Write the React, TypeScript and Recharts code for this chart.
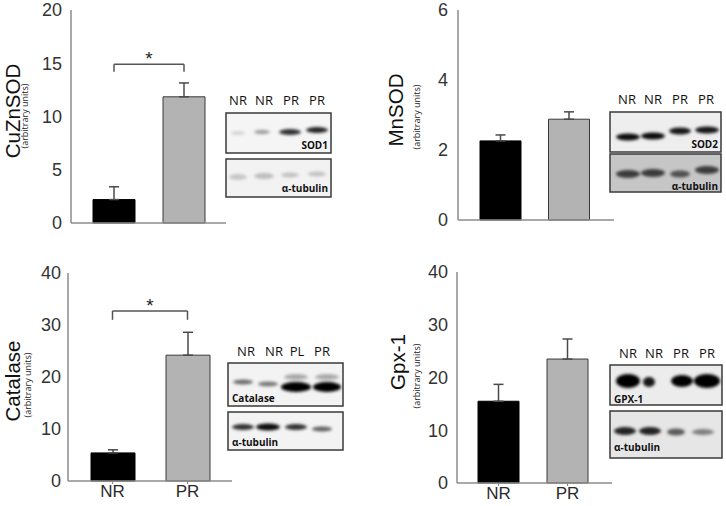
import React from 'react';
import { BarChart, Bar, XAxis, YAxis, ErrorBar, ReferenceLine, Cell } from 'recharts';

// ---- data ----
const groups = ['NR', 'PR'];
const cuznsodMean = [2.2, 11.85];
const cuznsodSem = [1.2, 1.3];
const mnsodMean = [2.26, 2.88];
const mnsodSem = [0.17, 0.21];
const catalaseMean = [5.4, 24.2];
const catalaseSem = [0.6, 4.4];
const gpx1Mean = [15.5, 23.5];
const gpx1Sem = [3.2, 3.8];

const cuznsodTicks = [0, 5, 10, 15, 20];
const mnsodTicks = [0, 2, 4, 6];
const catalaseTicks = [0, 10, 20, 30, 40];
const gpx1Ticks = [0, 10, 20, 30, 40];

// significance brackets: [bar level, leg bottom]
const cuznsodBracket = [14.9, 14.2];
const catalaseBracket = [32.7, 31.0];

const lanesA = ['NR', 'NR', 'PR', 'PR'];
const lanesCat = ['NR', 'NR', 'PL', 'PR'];

const barColors = ['#000000', '#b3b3b3'];
const barStrokes = ['#000000', '#3a3a3a'];

const toRows = (mean: number[], sem: number[]) =>
  groups.map((g, i) => ({ group: g, value: mean[i], err: [0, sem[i]] }));

const AXIS = '#8c8c8c';
const TICKFONT = "'Liberation Sans', Arial, sans-serif";
const TITLEFONT = "'Open Sans', 'Noto Sans', sans-serif";

type PanelProps = {
  left: number; top: number; width: number; height: number;
  margin: { top: number; right: number; bottom: number; left: number };
  yWidth: number; xHeight: number;
  data: any[]; ticks: number[];
  padding: { left: number; right: number };
  barSize: number; tickGap: number; showX: boolean;
  bracket?: number[];
};

function Panel(p: PanelProps) {
  const max = p.ticks[p.ticks.length - 1];
  return (
    <div style={{ position: 'absolute', left: p.left, top: p.top }}>
      <BarChart width={p.width} height={p.height} data={p.data} margin={p.margin}>
        <XAxis
          dataKey="group"
          height={p.xHeight}
          padding={p.padding}
          axisLine={{ stroke: AXIS, strokeWidth: 1.5 }}
          tickLine={{ stroke: AXIS, strokeWidth: 1.2 }}
          tickSize={3}
          tickMargin={1}
          tick={p.showX ? { fill: '#2a2a2a', fontSize: 17, fontFamily: TICKFONT } : false}
        />
        <YAxis
          width={p.yWidth}
          domain={[0, max]}
          ticks={p.ticks}
          interval={0}
          axisLine={{ stroke: AXIS, strokeWidth: 1.5 }}
          tickLine={false}
          tickSize={0}
          tickMargin={p.tickGap}
          tick={{ fill: '#333333', fontSize: 18, fontFamily: TICKFONT }}
        />
        <Bar dataKey="value" barSize={p.barSize} isAnimationActive={false} strokeWidth={1}>
          {p.data.map((d, i) => (
            <Cell key={d.group} fill={barColors[i]} stroke={barStrokes[i]} />
          ))}
          <ErrorBar dataKey="err" width={5} stroke="#4a4a4a" strokeWidth={1.5} direction="y" isAnimationActive={false} />
        </Bar>
        {p.bracket && (
          <ReferenceLine
            segment={[{ x: 'NR', y: p.bracket[0] }, { x: 'PR', y: p.bracket[0] }]}
            stroke="#555"
            strokeWidth={1.5}
            label={{ value: '*', position: 'top', offset: -1, fill: '#222', fontSize: 19, fontFamily: TICKFONT }}
          />
        )}
        {p.bracket && (
          <ReferenceLine segment={[{ x: 'NR', y: p.bracket[0] }, { x: 'NR', y: p.bracket[1] }]} stroke="#555" strokeWidth={1.5} />
        )}
        {p.bracket && (
          <ReferenceLine segment={[{ x: 'PR', y: p.bracket[0] }, { x: 'PR', y: p.bracket[1] }]} stroke="#555" strokeWidth={1.5} />
        )}
      </BarChart>
    </div>
  );
}

type Band = [number, number, number, number, number]; // cx, cy, rx, ry, opacity

function BlotBox({ x, y, w, h, bg, bands, label, labelX, labelY, anchor }:
  { x: number; y: number; w: number; h: number; bg: string; bands: Band[]; label: string; labelX: number; labelY: number; anchor: 'start' | 'end' }) {
  return (
    <g>
      <rect x={x} y={y} width={w} height={h} fill={bg} />
      <g filter="url(#blotblur)">
        {bands.map((b, i) => (
          <ellipse key={i} cx={b[0]} cy={b[1]} rx={b[2]} ry={b[3]} fill="#000" opacity={b[4]} />
        ))}
      </g>
      <rect x={x} y={y} width={w} height={h} fill="none" stroke="#3a3a3a" strokeWidth={1.5} />
      <text x={labelX} y={labelY} textAnchor={anchor} fontFamily={TITLEFONT} fontWeight={700} fontSize={10} fill="#111">{label}</text>
    </g>
  );
}

function LaneLabels({ xs, y, labels }: { xs: number[]; y: number; labels: string[] }) {
  return (
    <g>
      {labels.map((l, i) => (
        <text key={i} x={xs[i]} y={y} textAnchor="middle" fontFamily={TITLEFONT} fontSize={13} fill="#111">{l}</text>
      ))}
    </g>
  );
}

function Title({ x, y, sx, sy, text }: { x: number; y: number; sx: number; sy: number; text: string }) {
  return (
    <g>
      <text transform={`translate(${x},${y}) rotate(-90)`} textAnchor="middle" fontFamily={TICKFONT} fontSize={20.5} fill="#111">{text}</text>
      <text transform={`translate(${sx},${sy}) rotate(-90)`} textAnchor="middle" fontFamily={TITLEFONT} fontSize={9} fill="#222">(arbitrary units)</text>
    </g>
  );
}

export default function App() {
  return (
    <div style={{ position: 'absolute', left: 0, top: 0, width: 726, height: 506, background: '#fff', overflow: 'hidden' }}>
      <Panel left={0} top={0} width={240} height={240}
        margin={{ top: 10, right: 14, bottom: 7, left: 0 }} yWidth={71} xHeight={10}
        data={toRows(cuznsodMean, cuznsodSem)} ticks={cuznsodTicks}
        padding={{ left: 8, right: 7 }} barSize={42} tickGap={9} showX={false}
        bracket={cuznsodBracket} />
      <Panel left={360} top={0} width={260} height={240}
        margin={{ top: 10, right: 6, bottom: 10, left: 0 }} yWidth={98} xHeight={10}
        data={toRows(mnsodMean, mnsodSem)} ticks={mnsodTicks}
        padding={{ left: 8, right: 11 }} barSize={41} tickGap={10} showX={false} />
      <Panel left={0} top={250} width={240} height={256}
        margin={{ top: 23, right: 8, bottom: 0, left: 0 }} yWidth={68} xHeight={25}
        data={toRows(catalaseMean, catalaseSem)} ticks={catalaseTicks}
        padding={{ left: 7, right: 7 }} barSize={44} tickGap={7} showX={true}
        bracket={catalaseBracket} />
      <Panel left={360} top={250} width={260} height={256}
        margin={{ top: 22, right: 8, bottom: 0, left: 0 }} yWidth={97} xHeight={23}
        data={toRows(gpx1Mean, gpx1Sem)} ticks={gpx1Ticks}
        padding={{ left: 7, right: 10 }} barSize={41} tickGap={9} showX={true} />

      <svg width={726} height={506} style={{ position: 'absolute', left: 0, top: 0, pointerEvents: 'none' }}>
        <defs>
          <filter id="blotblur" x="-50%" y="-50%" width="200%" height="200%">
            <feGaussianBlur stdDeviation="1.8" />
          </filter>
        </defs>

        <Title x={20} y={111} sx={27.5} sy={116} text="CuZnSOD" />
        <Title x={403} y={110} sx={420} sy={117} text="MnSOD" />
        <Title x={20} y={381} sx={30.5} sy={385} text="Catalase" />
        <Title x={405} y={362} sx={420} sy={376} text="Gpx-1" />

        {/* SOD1 blot */}
        <LaneLabels xs={[238, 264, 291, 317]} y={105} labels={lanesA} />
        <BlotBox x={226} y={113} w={105} h={40} bg="#f5f5f5" label="SOD1" labelX={328} labelY={149} anchor="end"
          bands={[[238, 133, 7, 1.8, 0.15], [262, 132, 8, 2.2, 0.35], [290, 132, 11, 3, 0.8], [317, 130, 11, 3, 0.85]]} />
        <BlotBox x={226} y={159} w={105} h={38} bg="#f2f2f2" label="α-tubulin" labelX={328} labelY={192} anchor="end"
          bands={[[238, 177, 9, 3, 0.18], [264, 176, 10, 3, 0.22], [290, 175, 9, 2.5, 0.2], [317, 174, 9, 2.5, 0.2]]} />

        {/* SOD2 blot */}
        <LaneLabels xs={[627, 653, 680, 706]} y={104} labels={lanesA} />
        <BlotBox x={610} y={112} w={111} h={40} bg="#eeeeee" label="SOD2" labelX={718} labelY={148} anchor="end"
          bands={[[628, 137, 12, 3.5, 0.95], [653, 136, 12, 3.5, 0.95], [680, 131, 11, 3.5, 0.9], [707, 130, 12, 3.5, 0.9]]} />
        <BlotBox x={610} y={154} w={111} h={38} bg="#c6c6c6" label="α-tubulin" labelX={718} labelY={190} anchor="end"
          bands={[[628, 174, 12, 4, 0.7], [653, 173, 12, 4, 0.7], [680, 174, 10, 3.5, 0.6], [707, 170, 12, 4, 0.7]]} />

        {/* Catalase blot */}
        <LaneLabels xs={[246, 274, 297, 322]} y={356} labels={lanesCat} />
        <BlotBox x={228} y={363} w={115} h={43} bg="#f3f3f3" label="Catalase" labelX={232} labelY={402} anchor="start"
          bands={[[243, 382, 10, 2.5, 0.55], [268, 384, 10, 2.5, 0.5], [296, 377, 12, 3, 0.3], [327, 377, 12, 3, 0.3], [296, 387, 15, 5, 1], [327, 387, 14, 5, 1]]} />
        <BlotBox x={228} y={412} w={115} h={38} bg="#f3f3f3" label="α-tubulin" labelX={232} labelY={446} anchor="start"
          bands={[[243, 427, 11, 3, 0.8], [268, 427, 12, 3.5, 0.95], [296, 427, 11, 3, 0.8], [322, 429, 10, 2.5, 0.6]]} />

        {/* GPX-1 blot */}
        <LaneLabels xs={[628, 654, 681, 707]} y={358} labels={lanesA} />
        <BlotBox x={610} y={365} w={112} h={40} bg="#ececec" label="GPX-1" labelX={614} labelY={403} anchor="start"
          bands={[[628, 381, 12, 7, 1], [649, 382, 6, 5, 0.9], [682, 381, 11, 6, 1], [707, 381, 13, 7, 1]]} />
        <BlotBox x={610} y={411} w={112} h={47} bg="#e6e6e6" label="α-tubulin" labelX={614} labelY={451} anchor="start"
          bands={[[625, 431, 11, 4, 0.85], [650, 431, 11, 4, 0.85], [676, 432, 9, 3.5, 0.6], [703, 432, 11, 3, 0.45]]} />
      </svg>
    </div>
  );
}
